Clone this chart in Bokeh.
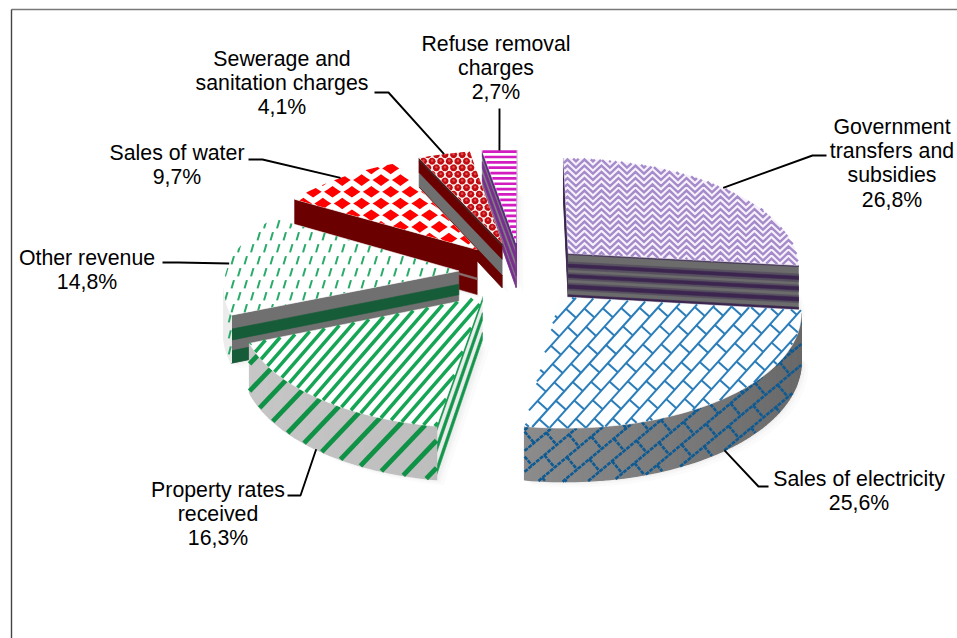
import math
import numpy as np
from bokeh.core.properties import value
from bokeh.embed import file_html
from bokeh.models import Range1d
from bokeh.plotting import figure
from bokeh.resources import INLINE

# Revenue shares, clockwise from twelve o'clock
categories = [
    ["Government", "transfers and", "subsidies"],
    ["Sales of electricity"],
    ["Property rates", "received"],
    ["Other revenue"],
    ["Sales of water"],
    ["Sewerage and", "sanitation charges"],
    ["Refuse removal", "charges"],
]
shares = [26.8, 25.6, 16.3, 14.8, 9.7, 4.1, 2.7]

# Label placement: centre x, first line y, leader elbow and leader end
label_x = [891.5, 858.5, 217.5, 86.5, 176.5, 281.5, 495.5]
label_y = [126.5, 478.5, 489.5, 257.5, 152.5, 58.5, 43.5]
leader_elbow = [(812, 155), (758, 486), (300, 495), (178, 262), (262, 159), (388, 92), (499, 120)]
leader_end = [(826, 155), (768, 486), (287, 495), (162, 262), (248, 159), (374, 92), (499, 108)]
leader_on_base = [False, True, True, False, False, False, False]

# Camera and solid geometry
CX, CY = 521.0, 272.5
RADIUS = 233.0
TILT = 0.4724
PERSPECTIVE = 0.000498
THICKNESS = 46.0
explode = [64, 62, 62, 63, 68, 68, 66]
draw_order = [0, 6, 5, 4, 3, 2, 1]

edges = np.concatenate([[0], np.cumsum(shares)]) / sum(shares) * 360.0

p = figure(width=957, height=638, x_range=Range1d(0, 957), y_range=Range1d(638, 0),
           toolbar_location=None, output_backend="svg", min_border=0, outline_line_color=None)
p.axis.visible = False
p.grid.visible = False
p.background_fill_color = "white"
p.border_fill_color = "white"


def project(X, Y, z=0.0):
    s = 1.0 / (1.0 + PERSPECTIVE * Y)
    return (CX + X * s, CY - TILT * Y * s + z * THICKNESS * s)


class Slice:
    def __init__(self, i):
        self.a0, self.a1 = math.radians(edges[i]), math.radians(edges[i + 1])
        mid = (self.a0 + self.a1) / 2
        self.mid = mid
        self.ox = explode[i] * math.sin(mid)
        self.oy = explode[i] * math.cos(mid)
        n = max(8, int((edges[i + 1] - edges[i]) / 1.5))
        self.angles = np.linspace(self.a0, self.a1, n + 1)

    def rim(self, a, z=0.0):
        return project(self.ox + RADIUS * math.sin(a), self.oy + RADIUS * math.cos(a), z)

    def apex(self, z=0.0):
        return project(self.ox, self.oy, z)

    def top(self):
        return [self.apex()] + [self.rim(a) for a in self.angles]

    def base(self):
        return [self.apex(1)] + [self.rim(a, 1) for a in self.angles]

    def faces_camera(self, x, y, nx, ny):
        return nx * (0 - x) + ny * (-1.0 / PERSPECTIVE - y) > 0

    def radial_visible(self, start):
        a = self.a0 if start else self.a1
        t = (math.cos(a), -math.sin(a))
        sign = -1 if start else 1
        return self.faces_camera(self.ox, self.oy, sign * t[0], sign * t[1])

    def radial_quad(self, start, v0=0.0, v1=1.0):
        a = self.a0 if start else self.a1
        return [self.apex(v0), self.rim(a, v0), self.rim(a, v1), self.apex(v1)]

    def arc_runs(self):
        runs, cur = [], []
        for a0, a1 in zip(self.angles[:-1], self.angles[1:]):
            m = (a0 + a1) / 2
            x = self.ox + RADIUS * math.sin(m)
            y = self.oy + RADIUS * math.cos(m)
            if self.faces_camera(x, y, math.sin(m), math.cos(m)):
                cur = cur or [a0]
                cur.append(a1)
            elif cur:
                runs.append(cur)
                cur = []
        if cur:
            runs.append(cur)
        return runs


def inside(pts, poly):
    poly = np.asarray(poly)
    x, y = pts[:, 0][:, None], pts[:, 1][:, None]
    x0, y0 = poly[:, 0], poly[:, 1]
    x1, y1 = np.roll(x0, -1), np.roll(y0, -1)
    with np.errstate(divide="ignore", invalid="ignore"):
        hit = ((y0 > y) != (y1 > y)) & (x < (x1 - x0) * (y - y0) / (y1 - y0) + x0)
    return hit.sum(axis=1) % 2 == 1


def clip_polyline(pts, poly):
    """Pieces of an open polyline that fall inside a polygon."""
    poly = np.asarray(poly, float)
    q0 = poly
    q1 = np.roll(poly, -1, axis=0)
    runs, cur = [], []
    for a, b in zip(pts[:-1], pts[1:]):
        a, b = np.asarray(a, float), np.asarray(b, float)
        d = b - a
        e = q1 - q0
        den = d[0] * e[:, 1] - d[1] * e[:, 0]
        with np.errstate(divide="ignore", invalid="ignore"):
            t = ((q0[:, 0] - a[0]) * e[:, 1] - (q0[:, 1] - a[1]) * e[:, 0]) / den
            u = ((q0[:, 0] - a[0]) * d[1] - (q0[:, 1] - a[1]) * d[0]) / den
        ts = t[(t > 0) & (t < 1) & (u >= 0) & (u <= 1)]
        ts = np.concatenate([[0.0], np.sort(ts), [1.0]])
        mids = (ts[:-1] + ts[1:]) / 2
        flags = inside(a + mids[:, None] * d, poly)
        for t0, t1, f in zip(ts[:-1], ts[1:], flags):
            if f:
                p0, p1 = a + t0 * d, a + t1 * d
                if cur and np.allclose(cur[-1], p0):
                    cur.append(p1)
                else:
                    if cur:
                        runs.append(cur)
                    cur = [p0, p1]
            elif cur:
                runs.append(cur)
                cur = []
    if cur:
        runs.append(cur)
    return runs


def clip_convex(shape, poly):
    """Sutherland-Hodgman clip of a small shape against a convex polygon."""
    area = sum(a[0] * b[1] - b[0] * a[1] for a, b in zip(poly, poly[1:] + poly[:1]))
    sign = 1 if area > 0 else -1
    out = list(shape)
    for a, b in zip(poly, poly[1:] + poly[:1]):
        if not out:
            break
        side = lambda q: sign * ((b[0] - a[0]) * (q[1] - a[1]) - (b[1] - a[1]) * (q[0] - a[0]))
        new = []
        for q, r in zip(out, out[1:] + out[:1]):
            sq, sr = side(q), side(r)
            if sq >= 0:
                new.append(q)
            if (sq >= 0) != (sr >= 0):
                t = sq / (sq - sr)
                new.append((q[0] + t * (r[0] - q[0]), q[1] + t * (r[1] - q[1])))
        out = new
    return out


def fill(poly, color, **kw):
    xs, ys = zip(*poly)
    p.patch(list(xs), list(ys), fill_color=color, line_color=kw.pop("line_color", color),
            line_width=kw.pop("line_width", 0.6), **kw)


def stroke(lines, poly, color, width, alpha=1.0, join="miter", dash="solid"):
    xs, ys = [], []
    for ln in lines:
        for run in clip_polyline(ln, poly):
            xs.append([q[0] for q in run])
            ys.append([q[1] for q in run])
    if xs:
        p.multi_line(xs, ys, line_color=color, line_width=width, line_alpha=alpha,
                     line_join=join, line_cap="butt", line_dash=dash)


def stamp(shapes, poly, color):
    xs, ys = [], []
    for sh in shapes:
        cut = clip_convex(sh, poly)
        if len(cut) >= 3:
            xs.append([q[0] for q in cut])
            ys.append([q[1] for q in cut])
    if xs:
        p.patches(xs, ys, fill_color=color, line_color=None)


def bounds(poly):
    a = np.asarray(poly)
    return a[:, 0].min() - 30, a[:, 0].max() + 30, a[:, 1].min() - 30, a[:, 1].max() + 30


def stripes(poly, dx, slope):
    """Parallel lines rising to the right, dx apart horizontally."""
    x0, x1, y0, y1 = bounds(poly)
    span = y1 - y0
    lines, start = [], x0 - span / slope
    while start < x1:
        lines.append([(start, y1), (start + span / slope, y0)])
        start += dx
    return lines


def bricks(poly, long_step, row_step, angle_deg):
    """Course lines along one direction, with staggered rungs between them."""
    a = math.radians(angle_deg)
    u = (math.cos(a), -math.sin(a))
    v = (math.sin(a), math.cos(a))
    x0, x1, y0, y1 = bounds(poly)
    cx, cy = (x0 + x1) / 2, (y0 + y1) / 2
    reach = math.hypot(x1 - x0, y1 - y0)
    rows = int(reach / row_step) + 1
    lines = []
    for r in range(-rows, rows + 1):
        bx, by = cx + v[0] * r * row_step, cy + v[1] * r * row_step
        lines.append([(bx - u[0] * reach, by - u[1] * reach), (bx + u[0] * reach, by + u[1] * reach)])
        n = int(reach / long_step) + 1
        for k in range(-n, n + 1):
            off = (k + 0.5 * (r % 2)) * long_step
            qx, qy = bx + u[0] * off, by + u[1] * off
            lines.append([(qx, qy), (qx + v[0] * row_step, qy + v[1] * row_step)])
    return lines


def chevron_rows(poly, period, row_step, amp):
    """Stacked zigzags that read as a herringbone weave."""
    x0, x1, y0, y1 = bounds(poly)
    lines = []
    y = y0
    while y < y1:
        xs = np.arange(x0, x1, period / 2)
        lines.append([(x, y + (amp if k % 2 else 0)) for k, x in enumerate(xs)])
        y += row_step
    return lines


def top_government(s):
    face = s.top()
    fill(face, "#f6f1fb")
    stroke(chevron_rows(face, 17, 6.2, 8.0), face, "#a68bcb", 2.4)


def top_electricity(s):
    face = s.top()
    fill(face, "#fdfeff")
    stroke(bricks(face, 25, 13.5, 48), face, "#2b7db9", 2.0)


def top_property(s):
    face = s.top()
    fill(face, "white")
    stroke(stripes(face, 12.2, 1.15), face, "#16a455", 3.5)


def top_other(s):
    face = s.top()
    fill(face, "white")
    x0, x1, y0, y1 = bounds(face)
    shapes, row, y = [], 0, y0
    while y < y1:
        x = x0 + (row % 2) * 6.5
        while x < x1:
            shapes.append([(x - 2.2, y + 4), (x - 0.2, y + 4.3), (x + 2.2, y - 4), (x + 0.2, y - 4.3)])
            x += 13.0
        y += 12.0
        row += 1
    stamp(shapes, face, "#28aa68")


def top_water(s):
    face = s.top()
    fill(face, "white")
    x0, x1, y0, y1 = bounds(face)
    shapes, row, y = [], 0, y0
    while y < y1:
        x = x0 + (row % 2) * 9.7
        while x < x1:
            shapes.append([(x - 8.5, y), (x - 4.5, y - 2.6), (x, y - 5.8), (x + 4.5, y - 2.6),
                           (x + 8.5, y), (x + 4.5, y + 2.6), (x, y + 5.8), (x - 4.5, y + 2.6)])
            x += 19.4
        y += 11.7
        row += 1
    stamp(shapes, face, "#ff0000")


def top_sewerage(s):
    face = s.top()
    fill(face, "#fff4f0")
    x0, x1, y0, y1 = bounds(face)
    big, small, row, y = [], [], 0, y0
    ring = [(math.cos(t), math.sin(t)) for t in np.linspace(0, 2 * math.pi, 10)[:-1]]
    while y < y1:
        x = x0 + (row % 2) * 4.3
        while x < x1:
            big.append([(x + 3.6 * c, y + 3.6 * n) for c, n in ring])
            small.append([(x + 1.3 * c, y - 0.6 + 1.3 * n) for c, n in ring])
            x += 8.6
        y += 6.6
        row += 1
    stamp(big, face, "#c00c12")
    stamp(small, face, "#e04a4a")


def top_refuse(s):
    face = s.top()
    fill(face, "white")
    x0, x1, y0, y1 = bounds(face)
    lines = [[(x0, y), (x1, y)] for y in np.arange(y0 + 31.5, y1, 5.35)]
    stroke(lines, face, "#d21cc0", 2.7)


top_painters = [top_government, top_electricity, top_property, top_other,
                top_water, top_sewerage, top_refuse]

# Bands (from, to, colour) across the height of each visible cut face
band_base = ["#6c6c6c", "#6f6f6f", "#ececec", "#707070", "#6a0000", "#6f6f6f", "#7f7f7f"]
cut_bands = [
    [(0.0, 0.03, "#4a3a5c"),
     (0.19, 0.36, "#585060"), (0.43, 0.58, "#585060"), (0.66, 0.82, "#585060"),
     (0.24, 0.31, "#3c2650"), (0.47, 0.54, "#3c2650"), (0.70, 0.78, "#3c2650"), (0.92, 1.0, "#3c2650")],
    [],
    [(0.0, 0.1, "#12964c"), (0.34, 0.5, "#12964c"), (0.76, 0.92, "#12964c")],
    [(0.29, 0.52, "#175c39"), (0.74, 1.0, "#175c39")],
    [(0.63, 0.67, "#8a7070")],
    [(0.0, 0.08, "#4a2020"), (0.08, 0.36, "#6a0000"), (0.72, 1.0, "#6a0000")],
    [(0.0, 0.14, "#5b2a7e"), (0.26, 0.42, "#7a2c90"), (0.58, 0.74, "#7a2c90"), (0.86, 1.0, "#7a2c90")],
]
# Outer wall tint at the two ends of each arc
wall_tints = [("#777777", "#777777"), ("#a6a6a6", "#686868"), ("#c8c8c8", "#b0b0b0"),
              ("#ececec", "#ececec"), ("#777777", "#777777"), ("#777777", "#777777"),
              ("#777777", "#777777")]


def hex_rgb(c):
    return np.array([int(c[k:k + 2], 16) for k in (1, 3, 5)], float)


def draw_wall(i, s):
    c0, c1 = hex_rgb(wall_tints[i][0]), hex_rgb(wall_tints[i][1])
    for run in s.arc_runs():
        for a0, a1 in zip(run[:-1], run[1:]):
            t = (math.sin((a0 + a1) / 2) + 1) / 2
            r, g, b = (c0 + (c1 - c0) * t).astype(int)
            fill([s.rim(a0), s.rim(a1), s.rim(a1, 1), s.rim(a0, 1)], f"#{r:02x}{g:02x}{b:02x}",
                 line_width=1.4)
        wall = [s.rim(a) for a in run] + [s.rim(a, 1) for a in reversed(run)]
        if i == 1:
            stroke(bricks(wall, 32, 16, 40), wall, "#0e5a92", 2.6, dash="4 1")
        elif i == 2:
            stroke(stripes(wall, 26, 1.05), wall, "#0f9146", 4.8)
        elif i == 3:
            x0, x1, y0, y1 = bounds(wall)
            stroke([[(x, y), (x + 2, y - 8)] for x in np.arange(x0, x1, 7)
                    for y in np.arange(y0, y1, 16)], wall, "#28aa68", 2)


def draw_cut(i, s, start):
    fill(s.radial_quad(start), band_base[i])
    for v0, v1, col in cut_bands[i]:
        fill(s.radial_quad(start, v0, v1), col)


slices = [Slice(i) for i in range(len(shares))]

# Soft ground shadow under the solid
for grow, alpha in ((7, 0.03), (4, 0.04), (2, 0.05)):
    for s in slices:
        xs, ys = zip(*s.base())
        p.patch([x + grow for x in xs], [y + grow * 0.8 for y in ys],
                fill_color="#808080", fill_alpha=alpha, line_color=None)

for i in draw_order:
    s = slices[i]
    if s.radial_visible(True):
        draw_cut(i, s, True)
    if s.radial_visible(False):
        draw_cut(i, s, False)
    draw_wall(i, s)
    top_painters[i](s)

# Frame along the top and left of the chart area
p.line([957, 11], [9, 9], line_color="#777777", line_width=1.4)
p.line([11, 11], [9, 638], line_color="#444444", line_width=1.4)

# Leader lines run from the middle of each slice's rim
for i, s in enumerate(slices):
    start = s.rim(s.mid, 1 if leader_on_base[i] else 0)
    ex, ey = leader_elbow[i]
    fx, fy = leader_end[i]
    p.line([start[0], ex, fx], [start[1], ey, fy], line_color="black", line_width=1.9)

# Labels, one row per printed line
tx, ty, tt = [], [], []
for i, name in enumerate(categories):
    rows = name + [f"{shares[i]:.1f}%".replace(".", ",")]
    for k, row in enumerate(rows):
        tx.append(label_x[i])
        ty.append(label_y[i] + k * 24.2)
        tt.append(row)
p.text(tx, ty, text=tt, text_font=value("Liberation Sans"), text_font_size="21.3px",
       text_align="center", text_baseline="middle", text_color="black")

open("out.html", "w").write(file_html(p, INLINE))
